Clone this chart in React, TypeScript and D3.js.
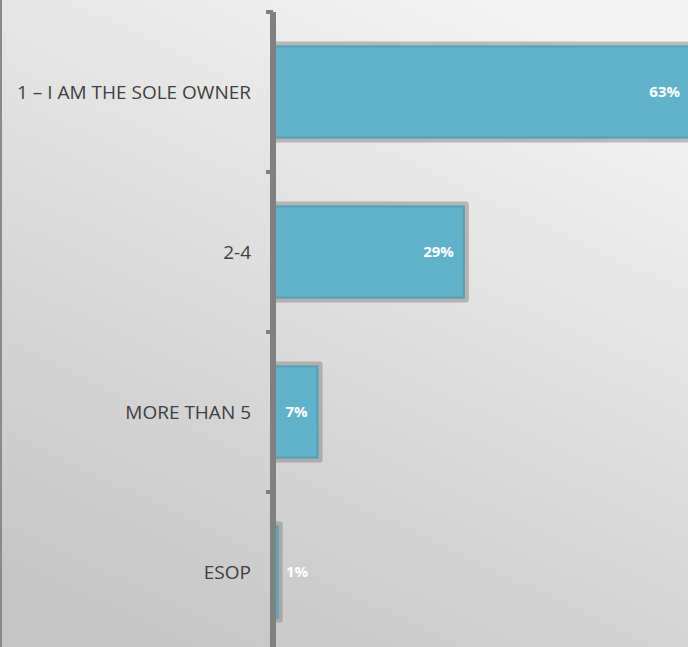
import React from "react";
import * as d3 from "d3";

const categories = ["1 – I AM THE SOLE OWNER", "2-4", "MORE THAN 5", "ESOP"];
const values = [63, 29, 7, 1];
const valueLabels = ["63%", "29%", "7%", "1%"];

const W = 688;
const H = 647;

export default function App() {
  const axisX = 273;
  const y = d3
    .scaleBand<string>()
    .domain(categories)
    .range([12, 652])
    .paddingInner(0.43)
    .paddingOuter(0.215);
  const x = d3.scaleLinear().domain([0, 63]).range([axisX - 2, 690]);
  const step = y.step();
  const tickYs = d3.range(categories.length + 1).map((i) => 12 + i * step);
  const font = "'Open Sans', sans-serif";

  return (
    <svg
      width={W}
      height={H}
      style={{ position: "absolute", left: 0, top: 0, display: "block" }}
    >
      <defs>
        <linearGradient id="bg" x1="0.75" y1="0" x2="0.25" y2="1">
          <stop offset="0" stopColor="#f4f4f4" />
          <stop offset="1" stopColor="#c6c6c6" />
        </linearGradient>
      </defs>
      <rect x={0} y={0} width={W} height={H} fill="url(#bg)" />
      <rect x={0} y={0} width={2} height={H} fill="#8a8a8a" />

      {categories.map((c, i) => {
        const by = y(c)!;
        const bh = y.bandwidth();
        const x0 = x(0);
        const x1 = x(values[i]);
        return (
          <g key={c}>
            <rect
              x={x0}
              y={by - 5}
              width={x1 - x0 + 5}
              height={bh + 10}
              rx={3}
              fill="#8c8c8c"
              fillOpacity={0.55}
            />
            <rect
              x={x0}
              y={by}
              width={x1 - x0}
              height={bh}
              fill="#61b3cb"
              stroke="#5a9fb1"
              strokeWidth={2}
            />
          </g>
        );
      })}

      {/* axis */}
      <line x1={axisX} x2={axisX} y1={tickYs[0]} y2={H} stroke="#808080" strokeWidth={6} />
      {tickYs.map((t, i) => (
        <line key={i} x1={axisX - 7} x2={axisX} y1={t} y2={t} stroke="#808080" strokeWidth={4} />
      ))}

      {categories.map((c, i) => (
        <text
          key={"l" + c}
          x={251}
          y={y(c)! + y.bandwidth() / 2}
          dy="0.35em"
          textAnchor="end"
          fontFamily={font}
          fontSize={19}
          fill="#404040"
        >
          {c}
        </text>
      ))}

      {categories.map((c, i) => {
        const inside = values[i] >= 3;
        const xe = x(values[i]);
        return (
          <text
            key={"v" + c}
            x={inside ? xe - 10 : axisX + 13}
            y={y(c)! + y.bandwidth() / 2}
            dy="0.35em"
            textAnchor={inside ? "end" : "start"}
            fontFamily={font}
            fontWeight="bold"
            fontSize={15}
            fill="#ffffff"
          >
            {valueLabels[i]}
          </text>
        );
      })}
    </svg>
  );
}
